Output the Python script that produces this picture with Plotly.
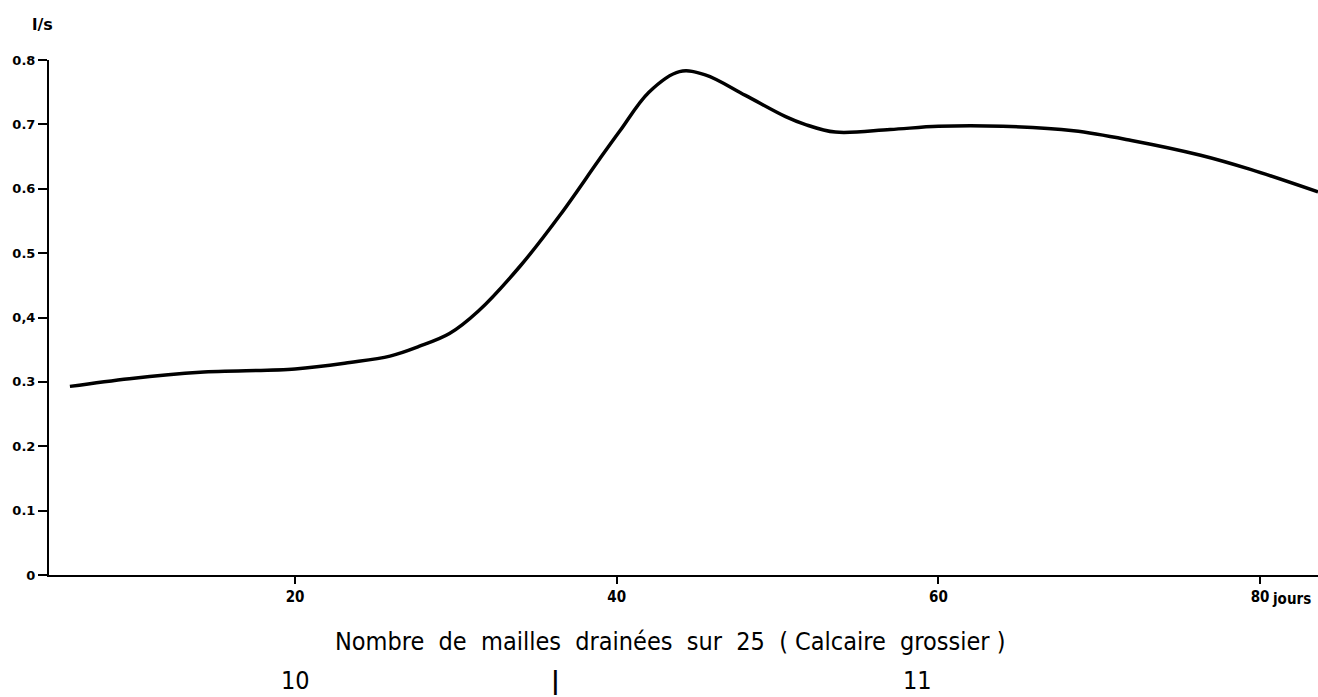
import plotly.graph_objects as go

# Débit (l/s) en fonction du temps (jours)
days = [6.0, 9.7, 14.1, 20.0, 23.4, 25.9, 27.7, 29.6, 31.4, 34.0, 36.5, 38.9, 40.2,
        42.0, 43.9, 45.5, 48.0, 50.5, 51.7, 53.6, 57.0, 60.0, 64.0, 68.4, 72.0,
        76.3, 79.4, 83.6]
flow = [0.293, 0.305, 0.315, 0.320, 0.330, 0.340, 0.355, 0.375, 0.410, 0.480,
        0.560, 0.645, 0.690, 0.750, 0.782, 0.777, 0.745, 0.712, 0.700, 0.688,
        0.692, 0.697, 0.697, 0.690, 0.675, 0.652, 0.630, 0.595]

y_ticks = [0, 0.1, 0.2, 0.3, 0.4, 0.5, 0.6, 0.7, 0.8]
y_tick_labels = ["0", "0.1", "0.2", "0.3", "0,4", "0.5", "0.6", "0.7", "0.8"]
x_ticks = [20, 40, 60, 80]
x_tick_labels = ["20", "40", "60", "80"]

font = "DejaVu Sans"
font_c = "DejaVu Sans Condensed, DejaVu Sans"

fig = go.Figure()
fig.add_trace(go.Scatter(
    x=days, y=flow, mode="lines",
    line=dict(color="black", width=3.5, shape="spline", smoothing=1.0),
    hoverinfo="skip", showlegend=False,
))

fig.update_layout(
    width=1318, height=697,
    margin=dict(l=49, r=0, t=60, b=122),
    paper_bgcolor="white", plot_bgcolor="white",
    xaxis=dict(
        range=[4.7, 83.6], showgrid=False, zeroline=False,
        showline=True, linecolor="black", linewidth=2,
        ticks="outside", ticklen=7, tickwidth=2, tickcolor="black",
        tickvals=x_ticks, ticktext=x_tick_labels,
        tickfont=dict(family=font_c, size=15, color="black", weight="bold"),
    ),
    yaxis=dict(
        range=[0, 0.8], showgrid=False, zeroline=False,
        showline=True, linecolor="black", linewidth=2,
        ticks="outside", ticklen=9, tickwidth=2, tickcolor="black",
        tickvals=y_ticks, ticktext=y_tick_labels,
        tickfont=dict(family=font, size=13, color="black", weight="bold"),
    ),
)

fig.add_annotation(text="<b>l/s</b>", x=-0.005, y=1.068, xref="paper", yref="paper",
                   xanchor="center", yanchor="middle", showarrow=False,
                   font=dict(family=font, size=16, color="black"))
fig.add_annotation(text="<b>jours</b>", x=80, y=0, xref="x", yref="paper",
                   xanchor="left", yanchor="middle", xshift=10, yshift=-24, showarrow=False,
                   font=dict(family=font_c, size=15, color="black"))
fig.add_annotation(text="Nombre  de  mailles  drainées  sur  25  ( Calcaire  grossier )",
                   x=0.489, y=-0.130, xref="paper", yref="paper",
                   xanchor="center", yanchor="middle", showarrow=False,
                   font=dict(family=font_c, size=25, color="black"))
fig.add_annotation(text="10", x=20, y=-0.205, xref="x", yref="paper",
                   xanchor="center", yanchor="middle", showarrow=False,
                   font=dict(family=font_c, size=25, color="black"))
fig.add_annotation(text="<b>|</b>", x=36.2, y=-0.206, xref="x", yref="paper",
                   xanchor="center", yanchor="middle", showarrow=False,
                   font=dict(family=font, size=24, color="black"))
fig.add_annotation(text="11", x=58.7, y=-0.205, xref="x", yref="paper",
                   xanchor="center", yanchor="middle", showarrow=False,
                   font=dict(family=font_c, size=25, color="black"))

fig.write_html("out.html")
